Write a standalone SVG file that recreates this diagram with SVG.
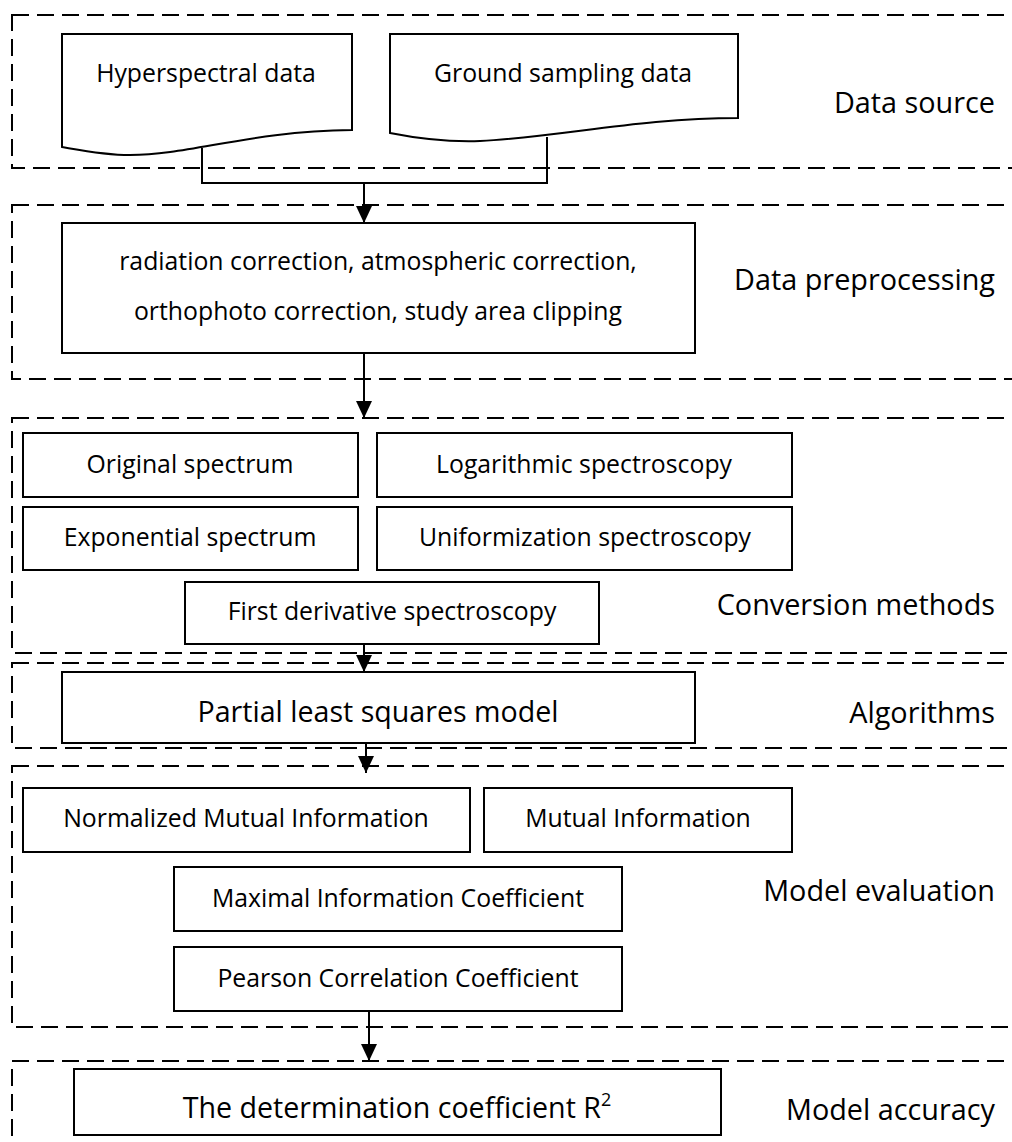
<svg xmlns="http://www.w3.org/2000/svg" width="1012" height="1142" viewBox="0 0 1012 1142">
  <style>
    .stage { fill: none; stroke: #000; stroke-width: 2; stroke-dasharray: 17 8; }
    .box { fill: #fff; stroke: #000; stroke-width: 2; }
    .wire { fill: none; stroke: #000; stroke-width: 2; }
    text { font-family: "Open Sans", "Noto Sans", "Liberation Sans", sans-serif; fill: #000; }
    .t { font-size: 24.8px; text-anchor: middle; }
    .tl { font-size: 28.6px; text-anchor: middle; }
    .lab { font-size: 28.8px; text-anchor: end; }
  </style>
  <defs>
    <marker id="arrow" markerUnits="userSpaceOnUse" markerWidth="18" markerHeight="18" refX="17" refY="8" orient="auto">
      <path d="M0,0 L17,8 L0,16 Z" fill="#000"/>
    </marker>
  </defs>
  <rect width="1012" height="1142" fill="#fff"/>

  <!-- stage frames (open to the right) -->
  <g id="stages">
    <rect class="stage" x="12" y="15" width="1030" height="153"/>
    <rect class="stage" x="12" y="205" width="1030" height="174"/>
    <rect class="stage" x="12" y="418" width="1030" height="235"/>
    <rect class="stage" x="12" y="663" width="1030" height="85"/>
    <rect class="stage" x="12" y="766" width="1030" height="261"/>
    <rect class="stage" x="12" y="1061" width="1030" height="120"/>
  </g>

  <!-- stage labels -->
  <g id="labels">
    <text class="lab" x="995" y="113">Data source</text>
    <text class="lab" x="995" y="290">Data preprocessing</text>
    <text class="lab" x="995" y="615">Conversion methods</text>
    <text class="lab" x="995" y="723">Algorithms</text>
    <text class="lab" x="995" y="901">Model evaluation</text>
    <text class="lab" x="995" y="1120">Model accuracy</text>
  </g>

  <!-- connectors -->
  <g id="connectors">
    <path class="wire" d="M202,148 V183 H547 V137"/>
    <path class="wire" d="M364,183 V223" marker-end="url(#arrow)"/>
    <path class="wire" d="M364,353 V418" marker-end="url(#arrow)"/>
    <path class="wire" d="M364,644 V672" marker-end="url(#arrow)"/>
    <path class="wire" d="M366,743 V773" marker-end="url(#arrow)"/>
    <path class="wire" d="M369,1011 V1061" marker-end="url(#arrow)"/>
  </g>

  <!-- data source documents -->
  <g id="hyperspectral">
    <path class="box" d="M62,34 H352 V130 C250,131 190,155 130,155 C105,155 85,151 62,147 Z"/>
    <text class="t" x="206" y="82">Hyperspectral data</text>
  </g>
  <g id="ground-sampling">
    <path class="box" d="M390,34 H738 V118 C640,118 560,137 480,141 C450,142 420,139 390,133 Z"/>
    <text class="t" x="563" y="82">Ground sampling data</text>
  </g>

  <!-- preprocessing -->
  <g id="preprocessing">
    <rect class="box" x="62" y="223" width="633" height="130"/>
    <text class="t" x="378" y="270">radiation correction, atmospheric correction,</text>
    <text class="t" x="378" y="320">orthophoto correction, study area clipping</text>
  </g>

  <!-- conversion methods -->
  <g id="original-spectrum">
    <rect class="box" x="23" y="433" width="335" height="64"/>
    <text class="t" x="190" y="473">Original spectrum</text>
  </g>
  <g id="logarithmic-spectroscopy">
    <rect class="box" x="377" y="433" width="415" height="64"/>
    <text class="t" x="584" y="473">Logarithmic spectroscopy</text>
  </g>
  <g id="exponential-spectrum">
    <rect class="box" x="23" y="507" width="335" height="63"/>
    <text class="t" x="190" y="546">Exponential spectrum</text>
  </g>
  <g id="uniformization-spectroscopy">
    <rect class="box" x="377" y="507" width="415" height="63"/>
    <text class="t" x="585" y="546">Uniformization spectroscopy</text>
  </g>
  <g id="first-derivative">
    <rect class="box" x="185" y="582" width="414" height="62"/>
    <text class="t" x="392" y="620">First derivative spectroscopy</text>
  </g>

  <!-- algorithm -->
  <g id="pls-model">
    <rect class="box" x="62" y="672" width="633" height="71"/>
    <text class="tl" x="378" y="722">Partial least squares model</text>
  </g>

  <!-- model evaluation -->
  <g id="nmi">
    <rect class="box" x="23" y="788" width="447" height="64"/>
    <text class="t" x="246" y="827">Normalized Mutual Information</text>
  </g>
  <g id="mi">
    <rect class="box" x="484" y="788" width="308" height="64"/>
    <text class="t" x="638" y="827">Mutual Information</text>
  </g>
  <g id="mic">
    <rect class="box" x="174" y="867" width="448" height="64"/>
    <text class="t" x="398" y="907">Maximal Information Coefficient</text>
  </g>
  <g id="pcc">
    <rect class="box" x="174" y="947" width="448" height="64"/>
    <text class="t" x="398" y="987">Pearson Correlation Coefficient</text>
  </g>

  <!-- model accuracy -->
  <g id="r-squared">
    <rect class="box" x="74" y="1069" width="647" height="66"/>
    <text class="tl" x="397" y="1118">The determination coefficient R<tspan font-size="18" dy="-12">2</tspan></text>
  </g>
</svg>
